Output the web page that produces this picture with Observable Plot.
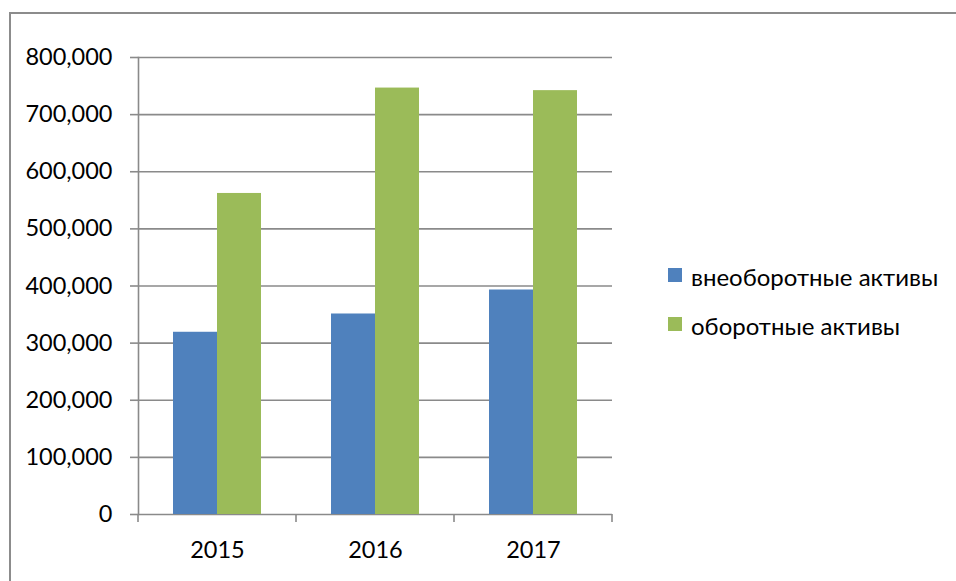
<!DOCTYPE html>
<html>
<head>
<meta charset="utf-8">
<script src="https://cdn.jsdelivr.net/npm/d3@7"></script>
<script src="https://cdn.jsdelivr.net/npm/@observablehq/plot@0.6"></script>
<style>
  html, body { margin: 0; padding: 0; background: #fff; overflow: hidden; }
  #wrap { position: relative; width: 956px; height: 581px; font-family: Lato, "Open Sans", sans-serif; }
  #border { position: absolute; left: 9px; top: 12px; width: 1000px; height: 700px; border: 2px solid #8c8c8c; }
  #chart { position: absolute; left: 0; top: 0; }
  #legend { position: absolute; left: 668px; top: 262px; font-size: 24px; color: #000; }
  .item { display: flex; align-items: center; height: 28px; margin-bottom: 21px; white-space: nowrap; }
  .sw { width: 14px; height: 14px; margin-right: 9px; margin-top: -2px; }
</style>
</head>
<body>
<div id="wrap">
  <div id="border"></div>
  <div id="chart"></div>
  <div id="legend"></div>
</div>
<script>
const years = ["2015", "2016", "2017"];
const seriesNames = ["внеоборотные активы", "оборотные активы"];
const seriesColors = ["#4F81BD", "#9BBB59"];
const nonCurrentAssets = [319000, 351000, 393000];
const currentAssets = [562000, 746500, 742000];
const yTicks = [0, 100000, 200000, 300000, 400000, 500000, 600000, 700000, 800000];

const data = [];
years.forEach((yr, i) => {
  data.push({year: yr, series: seriesNames[0], value: nonCurrentAssets[i]});
  data.push({year: yr, series: seriesNames[1], value: currentAssets[i]});
});

const gridColor = "#8a8a8a";

const plot = Plot.plot({
  width: 956,
  height: 581,
  marginLeft: 137,
  marginRight: 344,
  marginTop: 57,
  marginBottom: 67,
  style: {fontFamily: "Lato, 'Open Sans', sans-serif", fontSize: "23px", color: "#000", background: "transparent"},
  fx: {domain: years, padding: 0, axis: null},
  x: {domain: seriesNames, paddingInner: 0, paddingOuter: 0.76, axis: null},
  y: {domain: [0, 800000], axis: null},
  color: {domain: seriesNames, range: seriesColors},
  marks: [
    Plot.gridY(yTicks, {stroke: gridColor, strokeOpacity: 1, strokeWidth: 1.6}),
    Plot.barY(data, {fx: "year", x: "series", y: "value", fill: "series"}),
    Plot.frame({anchor: "left", facetAnchor: "left", stroke: gridColor, strokeWidth: 1.6}),
    Plot.axisY(yTicks, {tickSize: 8, tickPadding: 18, tickFormat: d3.format(","), stroke: gridColor, strokeWidth: 1.6, fill: "#000", fontSize: 23.5, label: null}),
    Plot.axisFx({anchor: "bottom", tickSize: 0, tickPadding: 27, fontSize: 23.5, fill: "#000", label: null})
  ]
});

// category boundary tick marks on the x axis, from the plot's own scales
const fx = plot.scale("fx");
const ys = plot.scale("y");
const bw = fx.bandwidth;
const bounds = years.map(y => fx.apply(y)).concat([fx.apply(years[years.length - 1]) + bw]);
const y0 = ys.apply(0);
d3.select(plot).append("g")
  .selectAll("line").data(bounds).join("line")
  .attr("x1", d => d).attr("x2", d => d)
  .attr("y1", y0).attr("y2", y0 + 8)
  .attr("stroke", gridColor).attr("stroke-width", 1.6);

document.getElementById("chart").appendChild(plot);

const legend = d3.select("#legend");
seriesNames.forEach((name, i) => {
  const item = legend.append("div").attr("class", "item");
  item.append("div").attr("class", "sw").style("background", seriesColors[i]);
  item.append("span").text(name);
});
</script>
</body>
</html>
